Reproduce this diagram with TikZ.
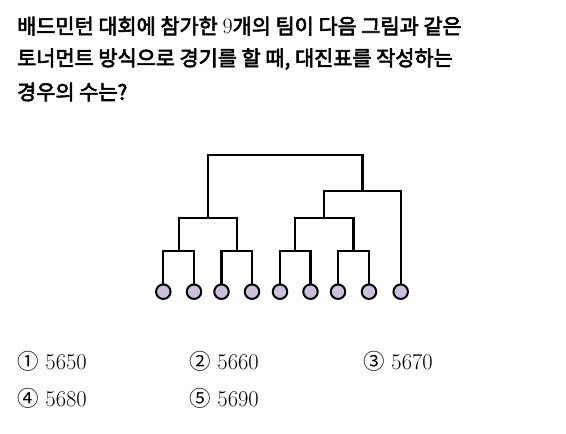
\documentclass[tikz,border=0pt]{standalone}
\usepackage{fontspec}
\newfontfamily\kr{Noto Sans CJK KR}
\newfontfamily\krm[FakeBold=3]{Noto Sans CJK KR}
\begin{document}
\begin{tikzpicture}[x=1pt,y=-1pt,
  leaf/.style={circle,draw=black,line width=2pt,fill=leafc,minimum size=14.5pt,inner sep=0pt},
  link/.style={line width=2.2pt,line cap=rect},
  title/.style={anchor=west,inner sep=0pt,font=\krm\fontsize{20.8}{22}\selectfont},
  opt/.style={anchor=west,inner sep=0pt,font=\fontsize{22.5}{24}\selectfont},
  circnum/.style={font=\kr\fontsize{21.5}{22}\selectfont}]
\definecolor{leafc}{HTML}{C8C0DC}
\useasboundingbox[fill=white] (0,0) rectangle (566,434);
% question
\node[title] (t1) at (17,26) {배드민턴 대회에 참가한 {\normalfont\fontsize{22}{22}\selectfont 9}개의 팀이 다음 그림과 같은};
\node[title] (t2) at (17,59) {토너먼트 방식으로 경기를 할 때, 대진표를 작성하는};
\node[title] (t3) at (17,92) {경우의 수는?};
% leaves
\foreach \i/\x in {1/163.3,2/194,3/221.5,4/252,5/280,6/310.5,7/338,8/369,9/400.7}
  \node[leaf] (l\i) at (\x,291.7) {};
% junctions
\coordinate (p1) at (178.6,251);
\coordinate (p2) at (236.7,251);
\coordinate (p3) at (295.2,251);
\coordinate (p4) at (353.5,251);
\coordinate (q1) at (207.7,217.7);
\coordinate (q2) at (324.3,217.7);
\coordinate (r1) at (362.5,191);
\coordinate (top) at (285,155);
% connectors
\draw[link] (l1) |- (p1) -| (l2);
\draw[link] (l3) |- (p2) -| (l4);
\draw[link] (l5) |- (p3) -| (l6);
\draw[link] (l7) |- (p4) -| (l8);
\draw[link] (p1) |- (q1) -| (p2);
\draw[link] (p3) |- (q2) -| (p4);
\draw[link] (q2) |- (r1) -| (l9);
\draw[link] (q1) |- (top) -| (r1);
% options
\node[opt] (o1) at (17,361) {{\kr\fontsize{21.5}{22}\selectfont ①} 5650};
\node[opt] (o2) at (189,361) {{\kr\fontsize{21.5}{22}\selectfont ②} 5660};
\node[opt] (o3) at (363,361) {{\kr\fontsize{21.5}{22}\selectfont ③} 5670};
\node[opt] (o4) at (17,398.5) {{\kr\fontsize{21.5}{22}\selectfont ④} 5680};
\node[opt] (o5) at (189,398.5) {{\kr\fontsize{21.5}{22}\selectfont ⑤} 5690};
\end{tikzpicture}
\end{document}
